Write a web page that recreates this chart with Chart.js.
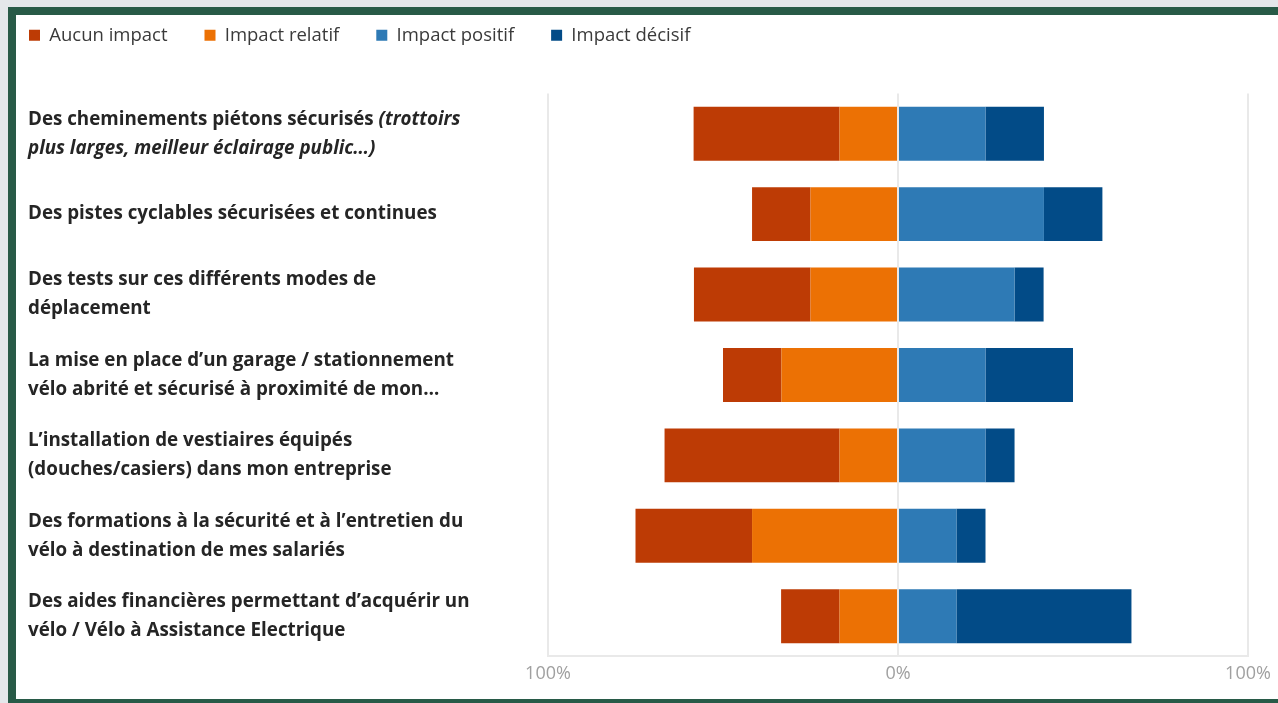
<!DOCTYPE html>
<html lang="fr">
<head>
<meta charset="utf-8">
<script src="https://cdn.jsdelivr.net/npm/chart.js@4.4.1/dist/chart.umd.min.js"></script>
<style>
  html, body { margin: 0; padding: 0; background: #e4e7ea; overflow: hidden; width: 1278px; height: 703px; }
  #panel {
    position: absolute; left: 8px; top: 7px; width: 1290px; height: 696px;
    box-sizing: border-box; background: #fff;
    border-left: 8px solid #285a47; border-top: 8px solid #285a47; border-bottom: 4px solid #285a47;
  }
  #chart { position: absolute; left: -8px; top: -11px; }
</style>
</head>
<body>
<div id="panel"></div>
<canvas id="chart" width="1286" height="710"></canvas>
<script>
// Data
const categories = [
  ['Des cheminements piétons sécurisés (trottoirs', 'plus larges, meilleur éclairage public…)'],
  ['Des pistes cyclables sécurisées et continues'],
  ['Des tests sur ces différents modes de', 'déplacement'],
  ['La mise en place d’un garage / stationnement', 'vélo abrité et sécurisé à proximité de mon…'],
  ['L’installation de vestiaires équipés', '(douches/casiers) dans mon entreprise'],
  ['Des formations à la sécurité et à l’entretien du', 'vélo à destination de mes salariés'],
  ['Des aides financières permettant d’acquérir un', 'vélo / Vélo à Assistance Electrique'],
];
// part of a label written in italics (from this text to the end)
const italicParts = ['(trottoirs', null, null, null, null, null, null];

const seriesNames = ['Aucun impact', 'Impact relatif', 'Impact positif', 'Impact décisif'];
const aucunImpact = [-41.7, -16.7, -33.3, -16.7, -50, -33.3, -16.7];
const impactRelatif = [-16.7, -25, -25, -33.3, -16.7, -41.7, -16.7];
const impactPositif = [25, 41.7, 33.3, 25, 25, 16.7, 16.7];
const impactDecisif = [16.7, 16.7, 8.3, 25, 8.3, 8.3, 50];
const tickValues = [-100, 0, 100];

const colors = {
  aucun: '#bd3b05',
  relatif: '#ec7104',
  positif: '#2e7ab5',
  decisif: '#024b87',
};

const FONT = '"Open Sans", "Noto Sans", sans-serif';

// draws the category labels on the left (mixed bold / bold italic)
const yLabelPlugin = {
  id: 'yLabels',
  afterDraw(chart) {
    const ctx = chart.ctx;
    const y = chart.scales.y;
    ctx.save();
    ctx.fillStyle = '#252525';
    ctx.textBaseline = 'middle';
    ctx.textAlign = 'left';
    categories.forEach((lines, i) => {
      const cy = y.getPixelForTick(i);
      let italic = false;
      lines.forEach((line, j) => {
        const ly = cy + (j - (lines.length - 1) / 2) * 29;
        let parts = [[line, italic]];
        const mark = italicParts[i];
        if (!italic && mark && line.includes(mark)) {
          const k = line.indexOf(mark);
          parts = [[line.slice(0, k), false], [line.slice(k), true]];
          italic = true;
        }
        let x = 36;
        parts.forEach(([t, it]) => {
          ctx.font = (it ? 'italic ' : '') + 'bold 18.8px ' + FONT;
          ctx.fillText(t, x, ly);
          x += ctx.measureText(t).width;
        });
      });
    });
    ctx.restore();
  }
};

const ctx = document.getElementById('chart').getContext('2d');
new Chart(ctx, {
  type: 'bar',
  data: {
    labels: categories,
    // relatif before aucun so that it stacks next to zero
    datasets: [
      { label: seriesNames[1], data: impactRelatif, backgroundColor: colors.relatif },
      { label: seriesNames[0], data: aucunImpact, backgroundColor: colors.aucun },
      { label: seriesNames[2], data: impactPositif, backgroundColor: colors.positif },
      { label: seriesNames[3], data: impactDecisif, backgroundColor: colors.decisif },
    ],
  },
  options: {
    indexAxis: 'y',
    responsive: false,
    animation: false,
    borderWidth: 0,
    categoryPercentage: 0.67,
    barPercentage: 1,
    layout: { padding: { left: 0, right: 30, top: 0, bottom: 7 } },
    plugins: {
      tooltip: { enabled: false },
      legend: {
        display: true,
        position: 'top',
        align: 'start',
        labels: {
          boxWidth: 11,
          boxHeight: 11,
          padding: 37,
          color: '#3a3a3a',
          font: { family: FONT, size: 18.5 },
          sort: (a, b) => seriesNames.indexOf(a.text) - seriesNames.indexOf(b.text),
        },
      },
    },
    scales: {
      x: {
        stacked: true,
        min: -100,
        max: 100,
        z: 1,
        afterBuildTicks: (scale) => { scale.ticks = tickValues.map(v => ({ value: v })); },
        ticks: {
          padding: 7,
          color: '#a0a0a0',
          font: { family: FONT, size: 18 },
          callback: (v) => Math.abs(v) + '%',
        },
        grid: { color: '#e9e9e9', lineWidth: 2, drawTicks: false },
        border: { display: true, color: '#e9e9e9', width: 2 },
      },
      // empty band between the legend and the plot
      gap: {
        axis: 'x',
        position: 'top',
        ticks: { display: false },
        grid: { display: false },
        border: { display: false },
        afterFit: (scale) => { scale.height = 39; },
      },
      y: {
        stacked: true,
        ticks: { display: false },
        grid: { display: false },
        border: { display: false },
        afterFit: (scale) => { scale.width = 556; },
      },
    },
  },
  plugins: [yLabelPlugin],
});
</script>
</body>
</html>
